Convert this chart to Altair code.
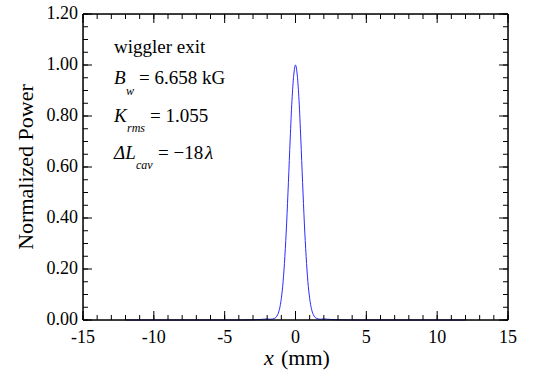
import altair as alt
import pandas as pd

# ---- data ----
x_mm = [-12.0, -4.0, -3.0, -2.5, -2.0, -1.75, -1.5, -1.25, -1.0, -0.875, -0.75,
        -0.625, -0.5, -0.375, -0.25, -0.125, 0.0, 0.125, 0.25, 0.375, 0.5,
        0.625, 0.75, 0.875, 1.0, 1.25, 1.5, 1.75, 2.0, 2.5, 3.0, 4.0, 12.0]
power = [0.0, 0.0, 0.001, 0.002, 0.004, 0.003, 0.006, 0.022, 0.085, 0.15, 0.25,
         0.38, 0.54, 0.71, 0.86, 0.96, 1.0, 0.96, 0.86, 0.71, 0.54,
         0.38, 0.25, 0.15, 0.085, 0.022, 0.006, 0.003, 0.004, 0.002, 0.001, 0.0, 0.0]

x_major = [-15, -10, -5, 0, 5, 10, 15]
x_labels = ["-15", "-10", "-5", "0", "5", "10", "15"]
x_minor = list(range(-15, 16))
y_major = [0.0, 0.2, 0.4, 0.6, 0.8, 1.0, 1.2]
y_labels = ["0.00", "0.20", "0.40", "0.60", "0.80", "1.00", "1.20"]
y_minor = [i * 0.05 for i in range(25)]

W, H = 425, 306
FONT = "Liberation Serif"

xs = alt.Scale(domain=[-15, 15], nice=False, zero=False)
ys = alt.Scale(domain=[0, 1.2], nice=False, zero=False)

df = pd.DataFrame({"x": x_mm, "p": power})

line = alt.Chart(df).mark_line(color="#2b2bff", strokeWidth=1, interpolate="monotone").encode(
    x=alt.X("x:Q", scale=xs, axis=None),
    y=alt.Y("p:Q", scale=ys, axis=None),
)


def xticks(vals, length):
    d = pd.DataFrame({"v": vals})
    b = alt.Chart(d).mark_rule(color="black", strokeWidth=1).encode(
        x=alt.X("v:Q", scale=xs, axis=None), y=alt.value(H), y2=alt.value(H - length))
    t = alt.Chart(d).mark_rule(color="black", strokeWidth=1).encode(
        x=alt.X("v:Q", scale=xs, axis=None), y=alt.value(0), y2=alt.value(length))
    return [b, t]


def yticks(vals, length):
    d = pd.DataFrame({"v": vals})
    l = alt.Chart(d).mark_rule(color="black", strokeWidth=1).encode(
        y=alt.Y("v:Q", scale=ys, axis=None), x=alt.value(0), x2=alt.value(length))
    r = alt.Chart(d).mark_rule(color="black", strokeWidth=1).encode(
        y=alt.Y("v:Q", scale=ys, axis=None), x=alt.value(W), x2=alt.value(W - length))
    return [l, r]


def frame():
    one = pd.DataFrame({"a": [0]})
    st = dict(color="black", strokeWidth=1.5)
    return [
        alt.Chart(one).mark_rule(**st).encode(x=alt.value(0), x2=alt.value(W), y=alt.value(0)),
        alt.Chart(one).mark_rule(**st).encode(x=alt.value(0), x2=alt.value(W), y=alt.value(H)),
        alt.Chart(one).mark_rule(**st).encode(y=alt.value(0), y2=alt.value(H), x=alt.value(0)),
        alt.Chart(one).mark_rule(**st).encode(y=alt.value(0), y2=alt.value(H), x=alt.value(W)),
        # invisible anchor that fixes the left/top margin
        alt.Chart(one).mark_rule(color="white", strokeWidth=1).encode(
            x=alt.value(-77), y=alt.value(-8), y2=alt.value(-7)),
    ]


xlab = alt.Chart(pd.DataFrame({"v": x_major, "t": x_labels})).mark_text(
    font=FONT, fontSize=18, fontStyle="normal", color="black", align="center",
    baseline="alphabetic").encode(
    x=alt.X("v:Q", scale=xs, axis=None), y=alt.value(H + 23), text="t:N")

ylab = alt.Chart(pd.DataFrame({"v": y_major, "t": y_labels})).mark_text(
    font=FONT, fontSize=18, fontStyle="normal", color="black", align="right",
    baseline="middle").encode(
    y=alt.Y("v:Q", scale=ys, axis=None), x=alt.value(-5), text="t:N")


def txt(s, px, py, size=19, italic=False, angle=None, align="left"):
    kw = dict(text=s, font=FONT, fontSize=size, color="black", align=align,
              baseline="alphabetic", fontStyle="italic" if italic else "normal")
    if angle is not None:
        kw["angle"] = angle
    return alt.Chart(pd.DataFrame({"a": [0]})).mark_text(**kw).encode(
        x=alt.value(px - 82), y=alt.value(py - 13))


texts = [
    txt("wiggler exit", 113, 52),
    txt("B", 113, 83, italic=True),
    txt("w", 125, 94, size=12, italic=True),
    txt("= 6.658 kG", 138, 83),
    txt("K", 113, 121, italic=True),
    txt("rms", 126, 131, size=12, italic=True),
    txt("= 1.055", 149, 121),
    txt("ΔL", 113, 158, italic=True),
    txt("cav", 135, 168, size=12, italic=True),
    txt("= −18", 157, 158),
    txt("λ", 204, 158, italic=True),
    txt("x", 263, 364, size=22, italic=True),
    txt("(mm)", 280, 364, size=22),
    txt("Normalized Power", 32, 166, size=22, angle=270, align="center"),
]

layers = ([line] + xticks(x_major, 9) + xticks(x_minor, 5) + yticks(y_major, 9)
          + yticks(y_minor, 5) + frame() + [xlab, ylab] + texts)

chart = alt.layer(*layers).properties(width=W, height=H)

chart.save("out.html", embed_options={"renderer": "svg", "actions": False})
